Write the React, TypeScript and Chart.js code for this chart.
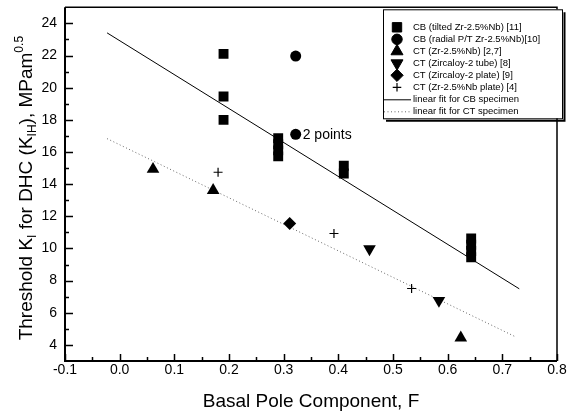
import React, { useEffect, useRef } from 'react';
import { Chart, registerables } from 'chart.js';
import { drawPoint } from 'chart.js/helpers';

Chart.register(...registerables);

// ---- data ----
const CB_TILTED_F = [0.19, 0.19, 0.19, 0.29, 0.29, 0.29, 0.29, 0.41, 0.41, 0.643, 0.643, 0.643, 0.643];
const CB_TILTED_K = [22.1, 19.45, 18.0, 16.86, 16.48, 16.1, 15.73, 15.14, 14.66, 10.62, 10.23, 9.84, 9.45];

const CB_RADIAL_F = [0.322, 0.322];
const CB_RADIAL_K = [21.97, 17.1];

const CT_ZRNB_F = [0.061, 0.171, 0.624];
const CT_ZRNB_K = [14.93, 13.62, 4.44];

const CT_ZY2_TUBE_F = [0.457, 0.584];
const CT_ZY2_TUBE_K = [9.97, 6.76];

const CT_ZY2_PLATE_F = [0.311];
const CT_ZY2_PLATE_K = [11.55];

const CT_ZRNB_PLATE_F = [0.18, 0.392, 0.534];
const CT_ZRNB_PLATE_K = [14.74, 10.93, 7.51];

const FIT_CB_F = [-0.023, 0.731];
const FIT_CB_K = [23.41, 7.49];

const FIT_CT_F = [-0.023, 0.725];
const FIT_CT_K = [16.83, 4.49];

const X_TICKS = [-0.1, 0.0, 0.1, 0.2, 0.3, 0.4, 0.5, 0.6, 0.7, 0.8];
const X_MINOR = [-0.05, 0.05, 0.15, 0.25, 0.35, 0.45, 0.55, 0.65, 0.75];
const Y_TICKS = [4, 6, 8, 10, 12, 14, 16, 18, 20, 22, 24];
const Y_MINOR = [5, 7, 9, 11, 13, 15, 17, 19, 21, 23];

const LABELS = [
  'CB (tilted Zr-2.5%Nb) [11]',
  'CB (radial P/T Zr-2.5%Nb)[10]',
  'CT (Zr-2.5%Nb) [2,7]',
  'CT (Zircaloy-2 tube) [8]',
  'CT (Zircaloy-2 plate) [9]',
  'CT (Zr-2.5%Nb plate) [4]',
  'linear fit for CB specimen',
  'linear fit for CT specimen',
];

const FONT = "Arial, 'Liberation Sans', sans-serif";

const pts = (xs: number[], ys: number[]) => xs.map((x, i) => ({ x, y: ys[i] }));

const framePlugin = {
  id: 'frameTicks',
  afterDatasetsDraw(chart: any) {
    const { ctx, chartArea: a, scales } = chart;
    const xs = scales.x;
    const ys = scales.y;
    ctx.save();
    ctx.strokeStyle = '#000';
    // frame
    ctx.lineWidth = 1.5;
    ctx.beginPath();
    ctx.moveTo(a.left, a.top);
    ctx.lineTo(a.right, a.top);
    ctx.lineTo(a.right, a.bottom);
    ctx.stroke();
    ctx.lineWidth = 2;
    ctx.beginPath();
    ctx.moveTo(a.left, a.top);
    ctx.lineTo(a.left, a.bottom);
    ctx.lineTo(a.right, a.bottom);
    ctx.stroke();
    // ticks inward
    ctx.lineWidth = 1.5;
    ctx.beginPath();
    X_TICKS.forEach((v) => {
      const p = Math.round(xs.getPixelForValue(v)) + 0.5;
      ctx.moveTo(p, a.bottom);
      ctx.lineTo(p, a.bottom - 7);
    });
    X_MINOR.forEach((v) => {
      const p = Math.round(xs.getPixelForValue(v)) + 0.5;
      ctx.moveTo(p, a.bottom);
      ctx.lineTo(p, a.bottom - 4);
    });
    Y_TICKS.forEach((v) => {
      const p = Math.round(ys.getPixelForValue(v)) + 0.5;
      ctx.moveTo(a.left, p);
      ctx.lineTo(a.left + 8, p);
    });
    Y_MINOR.forEach((v) => {
      const p = Math.round(ys.getPixelForValue(v)) + 0.5;
      ctx.moveTo(a.left, p);
      ctx.lineTo(a.left + 4, p);
    });
    ctx.stroke();

    // "2 points" annotation next to lower radial point
    const px = xs.getPixelForValue(CB_RADIAL_F[1]);
    const py = ys.getPixelForValue(CB_RADIAL_K[1]);
    ctx.fillStyle = '#000';
    ctx.font = `14px ${FONT}`;
    ctx.textAlign = 'left';
    ctx.textBaseline = 'middle';
    ctx.fillText('2 points', px + 7, py + 1);
    ctx.restore();
  },
  afterDraw(chart: any) {
    const { ctx, chartArea: a } = chart;
    ctx.save();
    // ---- legend ----
    const left = a.right - 174;
    const top = a.top + 2;
    const w = 179;
    const h = 109;
    ctx.fillStyle = '#fff';
    ctx.fillRect(left, top, w, h);
    ctx.strokeStyle = '#000';
    ctx.lineWidth = 1;
    ctx.strokeRect(left + 0.5, top + 0.5, w, h);
    ctx.lineWidth = 2;
    ctx.beginPath();
    ctx.moveTo(left + 3, top + h + 2.5);
    ctx.lineTo(left + w + 2.5, top + h + 2.5);
    ctx.lineTo(left + w + 2.5, top + 3);
    ctx.stroke();

    ctx.font = `9.5px ${FONT}`;
    ctx.textAlign = 'left';
    ctx.textBaseline = 'middle';
    chart.data.datasets.forEach((ds: any, i: number) => {
      const y = top + 18 + i * 12;
      const sx = left + 14;
      ctx.fillStyle = '#000';
      ctx.strokeStyle = ds.borderColor || '#000';
      if (ds.showLine) {
        ctx.save();
        ctx.lineWidth = 1;
        ctx.setLineDash(ds.borderDash || []);
        ctx.beginPath();
        ctx.moveTo(left + 1, y + 0.5);
        ctx.lineTo(left + 28, y + 0.5);
        ctx.stroke();
        ctx.restore();
      } else {
        ctx.save();
        ctx.fillStyle = '#000';
        ctx.strokeStyle = '#000';
        ctx.lineWidth = ds.pointBorderWidth || 1;
        drawPoint(ctx, {
          pointStyle: ds.pointStyle,
          rotation: ds.pointRotation || 0,
          radius: ds.pointRadius * 0.95,
          borderWidth: ds.pointBorderWidth || 1,
        } as any, sx, y);
        ctx.restore();
      }
      ctx.fillStyle = '#000';
      ctx.fillText(ds.label, left + 30, y + 0.5);
    });

    // ---- y-axis title with sub/superscripts ----
    const size = 19;
    const segs: { t: string; k: 'n' | 'sub' | 'sup' }[] = [
      { t: 'Threshold K', k: 'n' },
      { t: 'I', k: 'sub' },
      { t: ' for DHC (K', k: 'n' },
      { t: 'IH', k: 'sub' },
      { t: '), MPam', k: 'n' },
      { t: '0.5', k: 'sup' },
    ];
    const fontFor = (k: string) => `${k === 'n' ? size : Math.round(size * 0.62)}px ${FONT}`;
    let total = 0;
    segs.forEach((s) => {
      ctx.font = fontFor(s.k);
      total += ctx.measureText(s.t).width;
    });
    ctx.translate(32, (a.top + a.bottom) / 2 + 4);
    ctx.rotate(-Math.PI / 2);
    ctx.fillStyle = '#000';
    ctx.textAlign = 'left';
    ctx.textBaseline = 'alphabetic';
    let cx = -total / 2;
    segs.forEach((s) => {
      ctx.font = fontFor(s.k);
      const dy = s.k === 'sub' ? size * 0.22 : s.k === 'sup' ? -size * 0.45 : 0;
      ctx.fillText(s.t, cx, dy);
      cx += ctx.measureText(s.t).width;
    });
    ctx.restore();
  },
};

export default function App() {
  const ref = useRef<HTMLCanvasElement | null>(null);

  useEffect(() => {
    if (!ref.current) return;
    const chart = new Chart(ref.current, {
      type: 'scatter',
      data: {
        datasets: [
          {
            label: LABELS[0],
            data: pts(CB_TILTED_F, CB_TILTED_K),
            pointStyle: 'rect',
            pointRadius: 7,
            backgroundColor: '#000',
            borderColor: '#000',
            pointBorderWidth: 0,
          },
          {
            label: LABELS[1],
            data: pts(CB_RADIAL_F, CB_RADIAL_K),
            pointStyle: 'circle',
            pointRadius: 5.5,
            backgroundColor: '#000',
            borderColor: '#000',
            pointBorderWidth: 0,
          },
          {
            label: LABELS[2],
            data: pts(CT_ZRNB_F, CT_ZRNB_K),
            pointStyle: 'triangle',
            pointRadius: 7.3,
            backgroundColor: '#000',
            borderColor: '#000',
            pointBorderWidth: 0,
          },
          {
            label: LABELS[3],
            data: pts(CT_ZY2_TUBE_F, CT_ZY2_TUBE_K),
            pointStyle: 'triangle',
            pointRotation: 180,
            pointRadius: 7.3,
            backgroundColor: '#000',
            borderColor: '#000',
            pointBorderWidth: 0,
          },
          {
            label: LABELS[4],
            data: pts(CT_ZY2_PLATE_F, CT_ZY2_PLATE_K),
            pointStyle: 'rectRot',
            pointRadius: 6.5,
            backgroundColor: '#000',
            borderColor: '#000',
            pointBorderWidth: 0,
          },
          {
            label: LABELS[5],
            data: pts(CT_ZRNB_PLATE_F, CT_ZRNB_PLATE_K),
            pointStyle: 'cross',
            pointRadius: 4.5,
            backgroundColor: '#000',
            borderColor: '#000',
            pointBorderWidth: 1.2,
          },
          {
            label: LABELS[6],
            data: pts(FIT_CB_F, FIT_CB_K),
            showLine: true,
            pointRadius: 0,
            borderColor: '#000',
            borderWidth: 1,
          },
          {
            label: LABELS[7],
            data: pts(FIT_CT_F, FIT_CT_K),
            showLine: true,
            pointRadius: 0,
            borderColor: '#666',
            borderWidth: 1,
            borderDash: [1, 2.5],
          },
        ] as any,
      },
      options: {
        animation: false,
        responsive: false,
        layout: { padding: { top: 5, right: 12, left: 0, bottom: 0 } },
        plugins: {
          legend: { display: false },
          tooltip: { enabled: false },
        },
        scales: {
          x: {
            type: 'linear',
            min: -0.1,
            max: 0.8,
            grid: { display: false, drawTicks: false },
            border: { display: false },
            afterBuildTicks: (s: any) => {
              s.ticks = X_TICKS.map((v) => ({ value: v }));
            },
            afterFit: (s: any) => {
              s.height = 55;
              s.paddingLeft = 0;
              s.paddingRight = 0;
            },
            ticks: {
              color: '#000',
              font: { family: FONT, size: 14 },
              padding: 1,
              maxRotation: 0,
              autoSkip: false,
              callback: (v: any) => Number(v).toFixed(1),
            },
            title: {
              display: true,
              text: 'Basal Pole Component, F',
              color: '#000',
              font: { family: FONT, size: 19 },
              padding: { top: 0, bottom: 3 },
            },
          },
          y: {
            type: 'linear',
            min: 3,
            max: 25,
            grid: { display: false, drawTicks: false },
            border: { display: false },
            afterBuildTicks: (s: any) => {
              s.ticks = Y_TICKS.map((v) => ({ value: v }));
            },
            afterFit: (s: any) => {
              s.width = 65;
              s.paddingTop = 0;
              s.paddingBottom = 0;
            },
            ticks: {
              color: '#000',
              font: { family: FONT, size: 14 },
              padding: 8,
              autoSkip: false,
              callback: (v: any) => String(v),
            },
          },
        },
      } as any,
      plugins: [framePlugin],
    });
    return () => chart.destroy();
  }, []);

  return (
    <div style={{ position: 'absolute', left: 0, top: 0, width: 569, height: 416, background: '#fff' }}>
      <canvas ref={ref} width={569} height={416} style={{ display: 'block' }} />
    </div>
  );
}
